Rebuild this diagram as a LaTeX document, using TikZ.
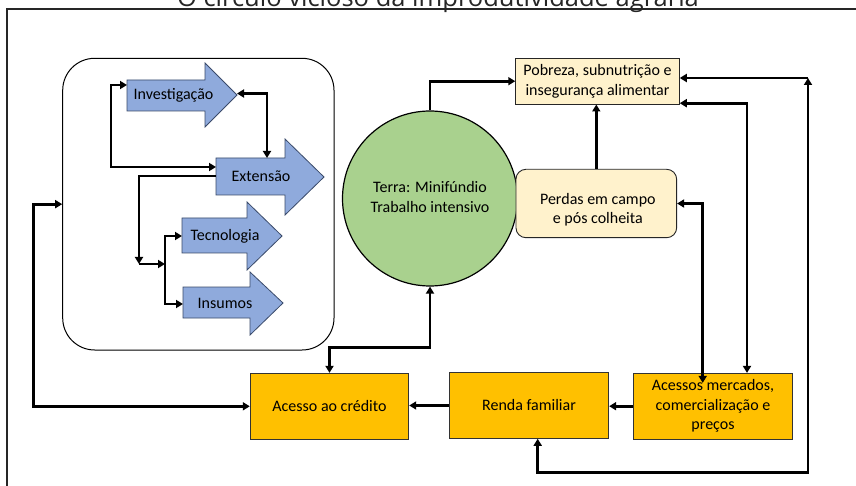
\documentclass[tikz,border=0pt]{standalone}
\usepackage{fontspec}
\setmainfont{Carlito}
\newfontfamily\titlefont{Open Sans}
\usetikzlibrary{arrows.meta}
\definecolor{arrblue}{HTML}{8FAADC}
\definecolor{arrborder}{HTML}{3A4A6A}
\definecolor{circgreen}{HTML}{A9D18E}
\definecolor{lightyel}{HTML}{FFF2CC}
\definecolor{orangebox}{HTML}{FFC000}
\tikzset{
  txt/.style={font=\fontsize{16}{19.5}\selectfont, align=center, inner sep=0pt},
  bluearr/.style={fill=arrblue, draw=arrborder, line width=0.8pt, line join=miter},
  boxo/.style={txt, draw=black!80, line width=0.9pt, fill=orangebox},
  boxy/.style={txt, draw=black!85, line width=0.9pt, fill=lightyel},
  conn/.style={line width=2.9pt, -{Triangle[length=7pt,width=8pt]}},
  conn2/.style={line width=2.9pt, {Triangle[length=7pt,width=8pt]}-{Triangle[length=7pt,width=8pt]}}
}
\begin{document}
\begin{tikzpicture}[x=1pt,y=-1pt]
\useasboundingbox (0,0) rectangle (856,486);
\fill[white] (0,0) rectangle (856,486);

% title (partly cut off at the top edge, as in the reference) and frame
\node[font=\titlefont\fontsize{25.5}{30}\selectfont, anchor=base, text=black!85, inner sep=0pt] (title) at (438,6.5) {O círculo vicioso da improdutividade agrária};
\draw[line width=2pt, black!85] (7.3,486) -- (7.3,9.5) -- (856,9.5);

% left panel
\node[draw=black, line width=1pt, rounded corners=32pt, minimum width=271.3pt, minimum height=291.7pt, inner sep=0pt] (panel) at (198.35,204.15) {};

% blue arrows
\path[bluearr] (127,80) -- (205,80) -- (205,63) -- (237,95) -- (205,127) -- (205,111) -- (127,111) -- cycle;
\node[txt] (inv) at (173.5,95) {Investigação};
\path[bluearr] (216,158) -- (285,158) -- (285,139) -- (324,177) -- (285,215) -- (285,195) -- (216,195) -- cycle;
\node[txt] (ext) at (261,176.5) {Extensão};
\path[bluearr] (182,218) -- (247,218) -- (247,202) -- (282,236) -- (247,270) -- (247,253) -- (182,253) -- cycle;
\node[txt] (tec) at (225,236) {Tecnologia};
\path[bluearr] (183,287) -- (250,287) -- (250,272) -- (283,303) -- (250,335) -- (250,318) -- (183,318) -- cycle;
\node[txt] (ins) at (225,303) {Insumos};

\coordinate (invW) at (127,85);
\coordinate (invT) at (237,93.5);
\coordinate (extW1) at (216,167);
\coordinate (extT) at (267,158);
\coordinate (extW2) at (216,176);
\coordinate (j1) at (139,264);
\coordinate (j2) at (165,264);
\coordinate (tecW) at (182,236);
\coordinate (insW) at (183,304);

% right part
\node[circle, draw=black, line width=1.2pt, fill=circgreen, minimum size=175pt, inner sep=0pt] (terra) at (430,198.5) {};
\node[txt] (terratxt) at (430,197) {Terra: Minifúndio\\Trabalho intensivo};
\node[boxy, minimum width=163.6pt, minimum height=45.7pt] (pob) at (597.5,81.2) {Pobreza, subnutrição e\\insegurança alimentar};
\node[boxy, rounded corners=10pt, minimum width=160.7pt, minimum height=68.4pt] (perdas) at (596.3,203.5) {};
\node[txt] (perdastxt) at ([shift={(1.5,6)}]perdas.center) {Perdas em campo\\e pós colheita};
\node[boxo, minimum width=158.5pt, minimum height=66pt] (acesso) at (329.5,406.3) {Acesso ao crédito};
\node[boxo, minimum width=159.4pt, minimum height=65.6pt] (renda) at (529,405.5) {Renda familiar};
\node[boxo, minimum width=159.4pt, minimum height=65.7pt] (acessos) at (713,406.2) {Acessos mercados,\\comercialização e\\preços};
\coordinate (corner) at (808,78);

% connectors, left panel
\draw[conn2] (invW) -- ++(-16,0) |- (extW1);
\draw[conn2] (invT) -| (extT);
\draw[conn] (extW2) -| (j1);
\draw[conn] (j1) -- (j2);
\draw[conn] (j2) |- (tecW);
\draw[conn] (j2) |- (insW);

% connectors, main loop
\draw[conn2] (panel.west) -- ++(-28.7,0) |- (acesso.west);
\draw[conn2] (acesso.north) -- ++(0,-25) -| (terra.south);
\draw[conn] (renda.west) -- (renda.west -| acesso.east);
\draw[conn] (acessos.west) -- (acessos.west -| renda.east);
\draw[conn2] ([xshift=8.7pt]renda.south) -- ++(0,33.4) -| (corner);
\draw[conn] (corner) -- (pob.east |- corner);
\draw[conn2] ([shift={(0,22)}]pob.east) -| ([shift={(34,0)}]acessos.north);
\draw[conn2] (perdas.east) -| ([shift={(-10.3,10)}]acessos.north);
\draw[conn] (terra.north) |- (pob.west);
\draw[conn] (perdas.north) -- (perdas.north |- pob.south);
\end{tikzpicture}
\end{document}
